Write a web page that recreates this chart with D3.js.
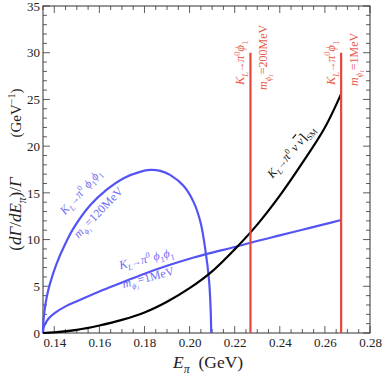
<!DOCTYPE html>
<html>
<head>
<meta charset="utf-8">
<script src="https://cdn.jsdelivr.net/npm/d3@7"></script>
<style>
  body { margin: 0; background: #fff; }
  svg { display: block; }
  svg text { font-family: "Liberation Serif", "Times New Roman", "DejaVu Serif", serif; }
</style>
</head>
<body>
<svg id="chart" width="382" height="376"></svg>
<script>
// tick values
var xTicks = [0.14, 0.16, 0.18, 0.20, 0.22, 0.24, 0.26, 0.28]
var yTicks = [0, 5, 10, 15, 20, 25, 30, 35]

// K_L -> pi0 nu nubar (SM)
var smE = [0.135, 0.14, 0.15, 0.16, 0.17, 0.18, 0.19, 0.20, 0.21, 0.22, 0.23, 0.24, 0.25, 0.26, 0.2672]
var smV = [0, 0.06, 0.33, 0.8, 1.4, 2.2, 3.35, 4.8, 6.6, 8.95, 11.6, 14.7, 18.2, 22.0, 25.6]

// K_L -> pi0 phi1 phi1, m = 1 MeV
var m1E = [0.135, 0.1352, 0.136, 0.1375, 0.14, 0.145, 0.15, 0.16, 0.17, 0.18, 0.19, 0.20, 0.21, 0.22, 0.23, 0.24, 0.25, 0.26, 0.2672]
var m1V = [0, 0.55, 1.0, 1.55, 2.1, 2.85, 3.4, 4.45, 5.4, 6.35, 7.2, 7.95, 8.6, 9.2, 9.85, 10.45, 11.05, 11.65, 12.1]

// K_L -> pi0 phi1 phi1, m = 120 MeV
var m120E = [0.135, 0.1352, 0.1358, 0.1367, 0.138, 0.141, 0.145, 0.1485, 0.156, 0.163, 0.171, 0.178, 0.1825, 0.187, 0.1915, 0.1975, 0.202, 0.205, 0.207, 0.2086, 0.2093, 0.2096]
var m120V = [0, 1.3, 2.6, 3.9, 5.2, 7.4, 9.6, 11.2, 13.7, 15.3, 16.6, 17.25, 17.45, 17.35, 16.9, 15.7, 13.9, 11.7, 8.9, 5.7, 2.8, 0]

// two-body lines K_L -> pi0 phi1
var redE = [0.227, 0.2672]
var redTop = [30, 30]
var redMass = ['200MeV', '1MeV']

var svg = d3.select('#chart')
var x = d3.scaleLinear().domain([0.135, 0.28]).range([43, 370])
var y = d3.scaleLinear().domain([0, 35]).range([333, 6])

var blue = '#5454f4', blueText = '#6e6ef2', red = '#e5483b', redText = '#ea5c4e'

function pts(es, vs) { return es.map(function(e, i) { return [e, vs[i]] }) }

// rich text with sub/superscripts
function rich(sel, parts, size) {
  var shift = 0
  parts.forEach(function(p) {
    var target = p.k == 'sub' ? 0.28 * size : p.k == 'sup' ? -0.38 * size : 0
    var fs = p.k ? size * 0.68 : p.s ? size * p.s : size
    sel.append('tspan')
      .attr('dy', target - shift)
      .attr('font-size', fs)
      .attr('font-style', p.it ? 'italic' : null)
      .attr('text-decoration', p.over ? 'overline' : null)
      .text(p.t)
    shift = target
  })
  return sel
}

// minor ticks
var xMinor = d3.range(0.135, 0.2801, 0.005).filter(function(d) { return xTicks.every(function(t) { return Math.abs(t - d) > 1e-6 }) })
var yMinor = d3.range(0, 35.01, 1).filter(function(d) { return d % 5 != 0 })

var frame = svg.append('g').attr('stroke', '#333').attr('stroke-width', 0.8)
frame.selectAll('line.xb').data(xTicks.concat(xMinor)).enter().append('line')
  .attr('x1', x).attr('x2', x).attr('y1', 333).attr('y2', function(d) { return xTicks.indexOf(d) >= 0 ? 326 : 329 })
frame.selectAll('line.xt').data(xTicks.concat(xMinor)).enter().append('line')
  .attr('x1', x).attr('x2', x).attr('y1', 6).attr('y2', function(d) { return xTicks.indexOf(d) >= 0 ? 13 : 10 })
frame.selectAll('line.yl').data(yTicks.concat(yMinor)).enter().append('line')
  .attr('y1', y).attr('y2', y).attr('x1', 43).attr('x2', function(d) { return d % 5 == 0 ? 50 : 47 })
frame.selectAll('line.yr').data(yTicks.concat(yMinor)).enter().append('line')
  .attr('y1', y).attr('y2', y).attr('x1', 370).attr('x2', function(d) { return d % 5 == 0 ? 363 : 366 })
svg.append('rect').attr('x', 43).attr('y', 6).attr('width', 327).attr('height', 327)
  .attr('fill', 'none').attr('stroke', '#333').attr('stroke-width', 1)

// tick labels
var xAxis = svg.append('g').attr('transform', 'translate(0,333)')
  .call(d3.axisBottom(x).tickValues(xTicks).tickFormat(d3.format('.2f')).tickSize(0).tickPadding(5))
var yAxis = svg.append('g').attr('transform', 'translate(43,0)')
  .call(d3.axisLeft(y).tickValues(yTicks).tickFormat(d3.format('d')).tickSize(0).tickPadding(3))
;[xAxis, yAxis].forEach(function(g) {
  g.select('.domain').remove()
  g.selectAll('text').attr('font-size', 13).attr('fill', '#222')
})

// curves
var line = d3.line().x(function(d) { return x(d[0]) }).y(function(d) { return y(d[1]) }).curve(d3.curveCatmullRom.alpha(0.5))
var plot = svg.append('g')
plot.append('path').attr('d', line(pts(m120E, m120V))).attr('fill', 'none').attr('stroke', blue).attr('stroke-width', 2.2)
plot.append('path').attr('d', line(pts(m1E, m1V))).attr('fill', 'none').attr('stroke', blue).attr('stroke-width', 2.2)
plot.append('path').attr('d', line(pts(smE, smV))).attr('fill', 'none').attr('stroke', '#000').attr('stroke-width', 2.2)
plot.selectAll('line.red').data(redE).enter().append('line')
  .attr('x1', x).attr('x2', x).attr('y1', y(0)).attr('y2', function(d, i) { return y(redTop[i]) })
  .attr('stroke', red).attr('stroke-width', 2.2)

var kpi = [{t: 'K', it: 1}, {t: 'L', k: 'sub', it: 1}, {t: '\u2192', s: 0.8}, {t: '\u03c0', it: 1}, {t: '0', k: 'sup'}]

// red labels
redE.forEach(function(e, i) {
  var lx = x(e)
  rich(svg.append('text').attr('transform', 'translate(' + (lx - 6) + ',85) rotate(-90)').attr('fill', redText),
    kpi.concat([{t: '\u03d5', it: 1}, {t: '1', k: 'sub'}]), 12.5)
  rich(svg.append('text').attr('transform', 'translate(' + (lx + 17) + ',' + (i == 0 ? 90 : 86) + ') rotate(-90)').attr('fill', redText), [
    {t: 'm', it: 1}, {t: '\u03d5\u2081', k: 'sub', it: 1}, {t: '=' + redMass[i]}
  ], 12)
})

// black label
rich(svg.append('text').attr('transform', 'translate(' + x(0.2368) + ',' + y(16.5) + ') rotate(-49)').attr('fill', '#111'),
  kpi.concat([{t: ' \u03bd ', it: 1}, {t: '\u03bd', it: 1, over: 1}, {t: '\u2309'}, {t: 'SM', k: 'sub'}]), 12)

// blue labels
var bl = [
  {e: 0.1448, v: 12.6, a: -48.5, p: 'K'},
  {e: 0.1507, v: 10.1, a: -46, p: 'm'},
  {e: 0.1692, v: 6.82, a: -14, p: 'K'},
  {e: 0.1707, v: 4.8, a: -15, p: 'm', m: '1MeV'}
]
bl.forEach(function(b) {
  var t = svg.append('text').attr('transform', 'translate(' + x(b.e) + ',' + y(b.v) + ') rotate(' + b.a + ')').attr('fill', blueText)
  if (b.p == 'K') {
    rich(t, kpi.concat([{t: ' \u03d5', it: 1}, {t: '1', k: 'sub'}, {t: '\u03d5', it: 1}, {t: '1', k: 'sub'}]), 12)
  } else {
    rich(t, [{t: 'm', it: 1}, {t: '\u03d5\u2081', k: 'sub', it: 1}, {t: '=' + (b.m || '120MeV')}], 12)
  }
})

// axis titles
rich(svg.append('text').attr('transform', 'translate(21,214) rotate(-90)').attr('text-anchor', 'middle').attr('fill', '#222'), [
  {t: '(', }, {t: 'd\u0393', it: 1}, {t: '/'}, {t: 'dE', it: 1}, {t: '\u03c0', k: 'sub', it: 1}, {t: ')/'}, {t: '\u0393', it: 1}
], 17)
rich(svg.append('text').attr('transform', 'translate(21,113) rotate(-90)').attr('text-anchor', 'middle').attr('fill', '#222'), [
  {t: '(GeV'}, {t: '\u22121', k: 'sup'}, {t: ')'}
], 15)
rich(svg.append('text').attr('x', 173).attr('y', 368).attr('fill', '#222'), [
  {t: 'E', it: 1}, {t: '\u03c0', k: 'sub', it: 1}, {t: '\u00a0\u00a0(GeV)'}
], 17.5)
</script>
</body>
</html>
